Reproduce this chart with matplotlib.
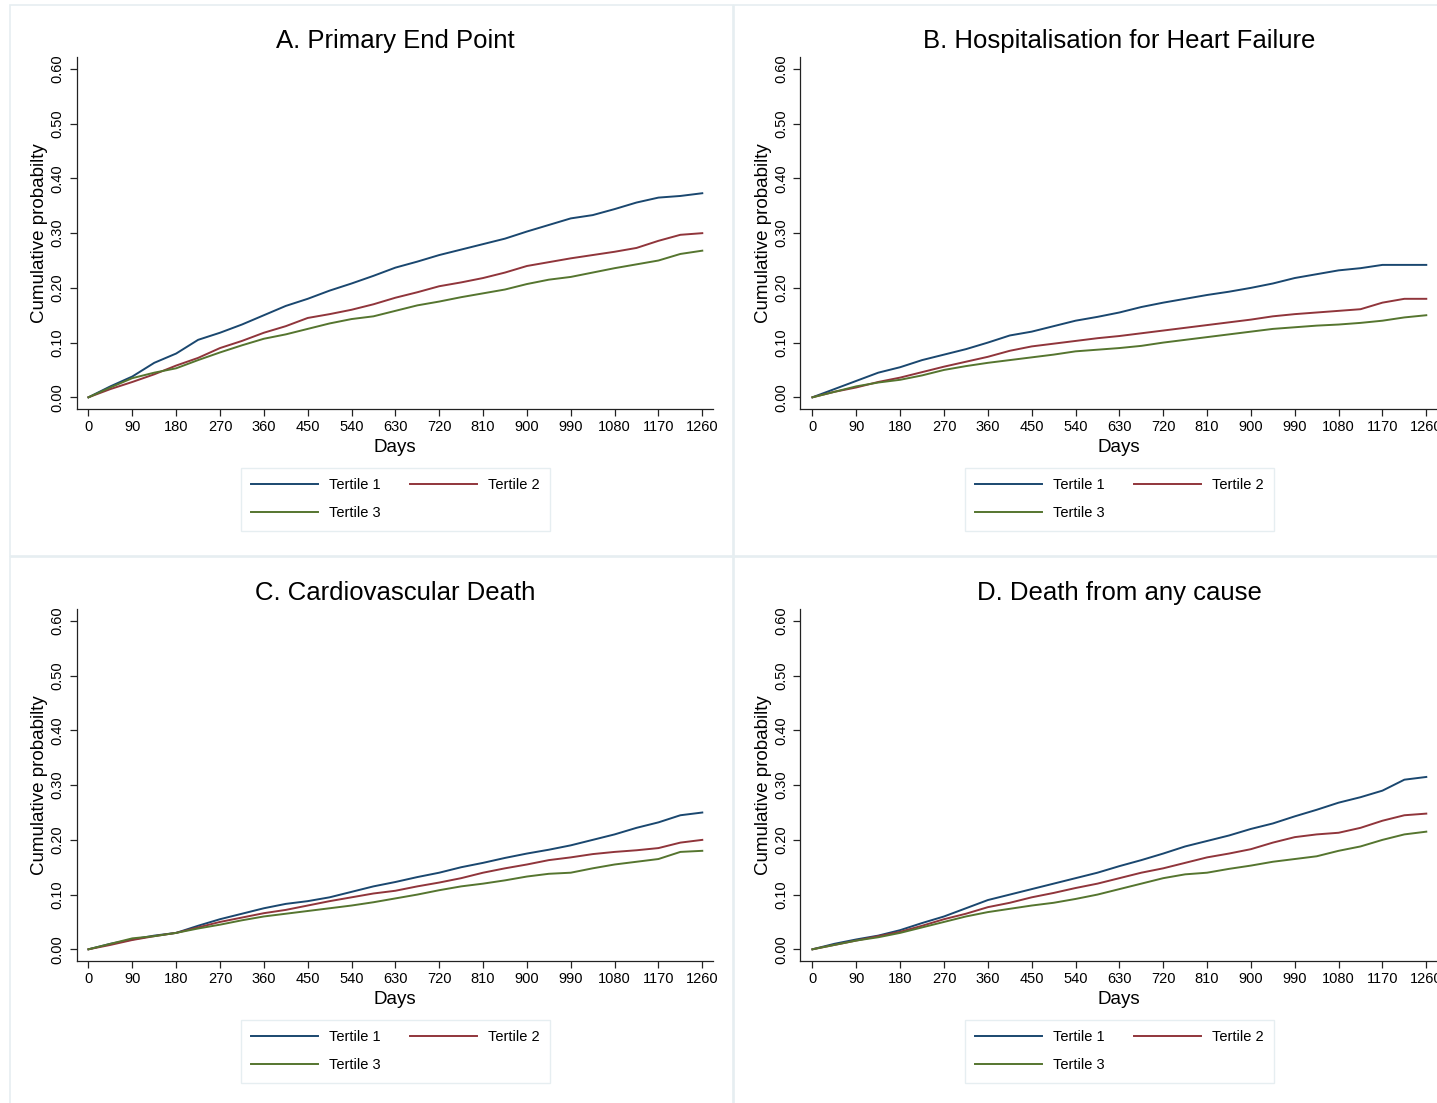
import numpy as np
import matplotlib
matplotlib.use("Agg")
import matplotlib.pyplot as plt
from matplotlib.patches import Rectangle

plt.rcParams['font.family'] = ['Liberation Sans', 'DejaVu Sans']

# follow-up grid (days) the curves were read at
days = list(range(0, 1261, 45))

titles = ["A. Primary End Point", "B. Hospitalisation for Heart Failure",
          "C. Cardiovascular Death", "D. Death from any cause"]
labels = ["Tertile 1", "Tertile 2", "Tertile 3"]
xticks = list(range(0, 1261, 90))
yticks = [0.0, 0.1, 0.2, 0.3, 0.4, 0.5, 0.6]

# A. primary end point
a_t1 = [0, 0.020, 0.038, 0.063, 0.080, 0.105, 0.118, 0.133, 0.150, 0.167, 0.180, 0.195, 0.208, 0.222, 0.237,
        0.248, 0.260, 0.270, 0.280, 0.290, 0.303, 0.315, 0.327, 0.333, 0.344, 0.356, 0.365, 0.368, 0.373]
a_t2 = [0, 0.015, 0.028, 0.042, 0.058, 0.072, 0.090, 0.103, 0.118, 0.130, 0.145, 0.152, 0.160, 0.170, 0.182,
        0.192, 0.203, 0.210, 0.218, 0.228, 0.240, 0.247, 0.254, 0.260, 0.266, 0.273, 0.286, 0.297, 0.300]
a_t3 = [0, 0.018, 0.035, 0.045, 0.053, 0.068, 0.082, 0.095, 0.107, 0.115, 0.125, 0.135, 0.143, 0.148, 0.158,
        0.168, 0.175, 0.183, 0.190, 0.197, 0.207, 0.215, 0.220, 0.228, 0.236, 0.243, 0.250, 0.262, 0.268]

# B. hospitalisation for heart failure
b_t1 = [0, 0.015, 0.030, 0.045, 0.055, 0.068, 0.078, 0.088, 0.100, 0.113, 0.120, 0.130, 0.140, 0.147, 0.155,
        0.165, 0.173, 0.180, 0.187, 0.193, 0.200, 0.208, 0.218, 0.225, 0.232, 0.236, 0.242, 0.242, 0.242]
b_t2 = [0, 0.010, 0.018, 0.028, 0.036, 0.046, 0.056, 0.065, 0.074, 0.085, 0.093, 0.098, 0.103, 0.108, 0.112,
        0.117, 0.122, 0.127, 0.132, 0.137, 0.142, 0.148, 0.152, 0.155, 0.158, 0.161, 0.173, 0.180, 0.180]
b_t3 = [0, 0.010, 0.020, 0.027, 0.032, 0.040, 0.050, 0.057, 0.063, 0.068, 0.073, 0.078, 0.084, 0.087, 0.090,
        0.094, 0.100, 0.105, 0.110, 0.115, 0.120, 0.125, 0.128, 0.131, 0.133, 0.136, 0.140, 0.146, 0.150]

# C. cardiovascular death
c_t1 = [0, 0.010, 0.018, 0.025, 0.030, 0.043, 0.055, 0.065, 0.075, 0.083, 0.088, 0.095, 0.105, 0.115, 0.123,
        0.132, 0.140, 0.150, 0.158, 0.167, 0.175, 0.182, 0.190, 0.200, 0.210, 0.222, 0.232, 0.245, 0.250]
c_t2 = [0, 0.008, 0.017, 0.024, 0.030, 0.040, 0.050, 0.058, 0.066, 0.072, 0.080, 0.088, 0.095, 0.102, 0.107,
        0.115, 0.122, 0.130, 0.140, 0.148, 0.155, 0.163, 0.168, 0.174, 0.178, 0.181, 0.185, 0.195, 0.200]
c_t3 = [0, 0.010, 0.020, 0.024, 0.030, 0.038, 0.045, 0.053, 0.060, 0.065, 0.070, 0.075, 0.080, 0.086, 0.093,
        0.100, 0.108, 0.115, 0.120, 0.126, 0.133, 0.138, 0.140, 0.148, 0.155, 0.160, 0.165, 0.178, 0.180]

# D. death from any cause
d_t1 = [0, 0.010, 0.018, 0.025, 0.035, 0.048, 0.060, 0.075, 0.090, 0.100, 0.110, 0.120, 0.130, 0.140, 0.152,
        0.163, 0.175, 0.188, 0.198, 0.208, 0.220, 0.230, 0.243, 0.255, 0.268, 0.278, 0.290, 0.310, 0.315]
d_t2 = [0, 0.008, 0.016, 0.024, 0.032, 0.043, 0.055, 0.065, 0.077, 0.085, 0.095, 0.103, 0.112, 0.120, 0.130,
        0.140, 0.148, 0.158, 0.168, 0.175, 0.183, 0.195, 0.205, 0.210, 0.213, 0.222, 0.235, 0.245, 0.248]
d_t3 = [0, 0.008, 0.016, 0.022, 0.030, 0.040, 0.050, 0.060, 0.068, 0.074, 0.080, 0.085, 0.092, 0.100, 0.110,
        0.120, 0.130, 0.137, 0.140, 0.147, 0.153, 0.160, 0.165, 0.170, 0.180, 0.188, 0.200, 0.210, 0.215]

series = [(a_t1, a_t2, a_t3), (b_t1, b_t2, b_t3), (c_t1, c_t2, c_t3), (d_t1, d_t2, d_t3)]
colors = ["#1a476f", "#90353b", "#55752f"]

W, H = 1437, 1103
fig = plt.figure(figsize=(W / 100, H / 100), dpi=100)


def fx(px):
    return px / W


def fy(py):
    return 1 - py / H


def draw_panel(k, title, curves):
    dx = 724 * (k % 2)
    dy = 552 * (k // 2)

    # light outer frame of each sub-graph
    fig.add_artist(Rectangle((fx(10 + dx), fy(556 + dy)), fx(723), 551 / H,
                             transform=fig.transFigure, fill=False,
                             edgecolor="#e6eef1", lw=1.2))

    left, right, top, bottom = 76.5 + dx, 713 + dx, 57 + dy, 409 + dy
    ax = fig.add_axes([fx(left), fy(bottom), fx(right - left), (bottom - top) / H])
    lines = []
    for vals, lab, col in zip(curves, labels, colors):
        ln, = ax.plot(days, vals, color=col, lw=1.4, label=lab)
        lines.append(ln)

    ax.set_xlim(-24.6, 1282)
    ax.set_ylim(-0.0214, 0.622)
    ax.set_xticks(xticks)
    ax.set_yticks(yticks)
    ax.set_yticklabels([f"{v:.2f}" for v in yticks], rotation=90, va="center")
    ax.tick_params(axis="both", labelsize=10.5, length=5, width=0.9, color="#222222")
    ax.tick_params(axis="y", pad=4)
    ax.tick_params(axis="x", pad=3)
    for s in ["top", "right"]:
        ax.spines[s].set_visible(False)
    for s in ["left", "bottom"]:
        ax.spines[s].set_linewidth(0.9)
        ax.spines[s].set_color("#222222")

    fig.text(fx(395 + dx), fy(48 + dy), title, ha="center", va="baseline", fontsize=18.5)
    fig.text(fx(40 + dx), fy(233 + dy), "Cumulative probabilty", rotation=90,
             ha="center", va="center", fontsize=13.5)
    fig.text(fx(395 + dx), fy(447 + dy), "Days", ha="center", va="center", fontsize=13.5)

    # row-wise order: Tertile 1, Tertile 2 / Tertile 3
    order = [0, 2, 1]
    leg = ax.legend([lines[i] for i in order], [labels[i] for i in order],
                    loc="center", bbox_to_anchor=(fx(395.5 + dx), fy(499 + dy)),
                    bbox_transform=fig.transFigure, ncol=2, fontsize=10.5,
                    handlelength=4.6, handletextpad=0.75, columnspacing=2.0,
                    labelspacing=1.0, borderpad=0.7, fancybox=False,
                    framealpha=1, edgecolor="#e6eef1")
    leg.get_frame().set_linewidth(1.0)
    return ax


for k in range(4):
    draw_panel(k, titles[k], series[k])

fig.savefig("out.png", dpi=100, facecolor="white")
